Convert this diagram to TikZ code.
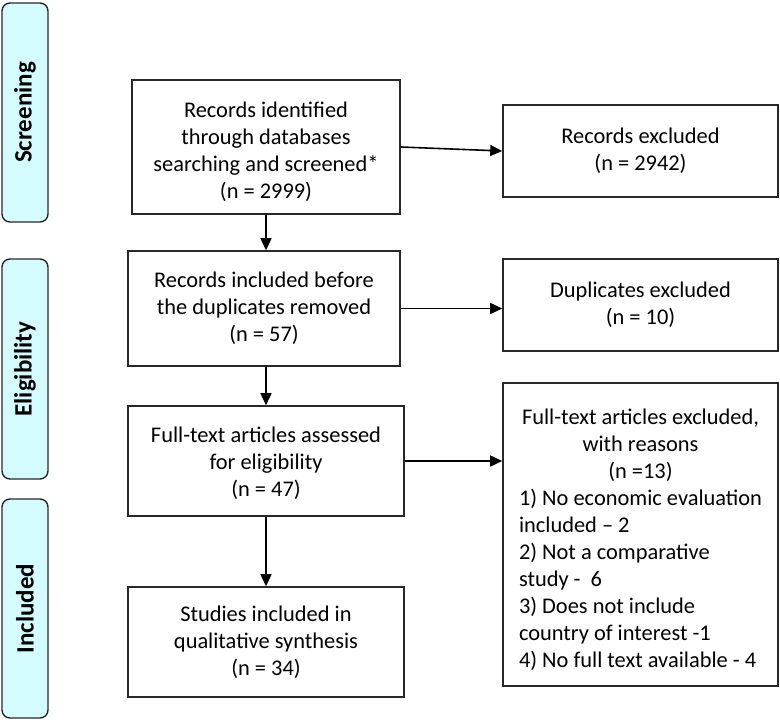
\documentclass[tikz,border=0pt]{standalone}
\usepackage{fontspec}
\setmainfont{Carlito}
\usetikzlibrary{arrows.meta}
\definecolor{phasefill}{RGB}{212,252,255}
\definecolor{edgegray}{RGB}{40,40,40}
\tikzset{
  flowbox/.style={draw=edgegray, line width=1.6pt, inner sep=0pt, align=center,
    font=\fontsize{22.4}{27}\selectfont},
  phasebox/.style={draw=edgegray, fill=phasefill, line width=1.4pt, rounded corners=8pt,
    rotate=90, inner sep=0pt, minimum height=46pt,
    font=\bfseries\fontsize{25}{28}\selectfont},
  flowarrow/.style={-{Triangle[length=12pt,width=11pt]}, line width=1.6pt, draw=black}
}
\begin{document}
\begin{tikzpicture}[x=1pt,y=-1pt]
\useasboundingbox (0,0) rectangle (780,720);
% phase labels
\node[phasebox, minimum width=219pt] (screening) at (25,112.5) {Screening};
\node[phasebox, minimum width=220pt] (eligibility) at (25,369) {Eligibility};
\node[phasebox, minimum width=219pt] (included) at (25,608.5) {Included};
% main boxes
\node[flowbox, minimum width=268pt, minimum height=134pt] (ident) at (266,147)
  {\rule{0pt}{26pt}Records identified\\through databases\\searching and screened*\\(n = 2999)};
\node[flowbox, minimum width=272pt, minimum height=115pt] (before) at (264,308.5)
  {Records included before\\the duplicates removed\\(n = 57)};
\node[flowbox, minimum width=276pt, minimum height=110pt] (assess) at (266,461)
  {\rule{0pt}{20pt}Full-text articles assessed\\for eligibility\\(n = 47)};
\node[flowbox, minimum width=276pt, minimum height=110pt] (studies) at (266,642)
  {Studies included in\\qualitative synthesis\\(n = 34)};
% right boxes
\node[flowbox, minimum width=275pt, minimum height=92pt] (excl) at (640.5,151)
  {Records excluded\\(n = 2942)};
\node[flowbox, minimum width=275pt, minimum height=92pt] (dup) at (640.5,305)
  {Duplicates excluded\\(n = 10)};
\node[flowbox, minimum width=275pt, minimum height=303pt] (ftex) at (640.5,534.5)
  {\rule{0pt}{31pt}Full-text articles excluded,\\with reasons\\(n =13)\\%
   \begin{tabular}[t]{@{}l@{}}
   1) No economic evaluation\\
   included – 2\\
   2) Not a comparative\\
   study -\ \ 6\\
   3) Does not include\\
   country of interest -1\\
   4) No full text available - 4
   \end{tabular}};
% connectors
\draw[flowarrow] (ident.south) -- (ident.south |- before.north);
\draw[flowarrow] (ident.south |- before.south) -- (ident.south |- assess.north);
\draw[flowarrow] (assess.south) -- (studies.north);
\draw[flowarrow] (ident.east) -- (excl.west);
\draw[flowarrow] (before.east) -- (before.east -| dup.west);
\draw[flowarrow] (assess.east) -- (assess.east -| ftex.west);
\end{tikzpicture}
\end{document}
